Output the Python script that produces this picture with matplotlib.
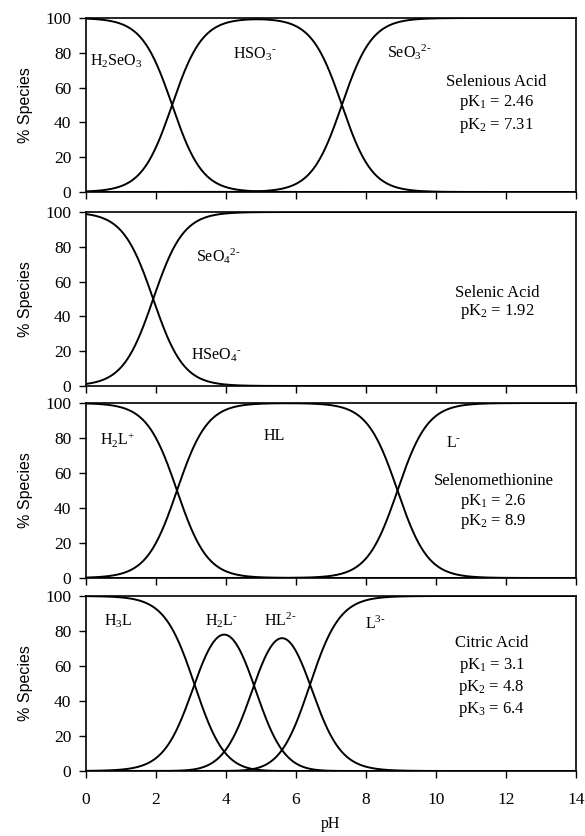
import numpy as np
import matplotlib.pyplot as plt

plt.rcParams['font.family'] = ['Liberation Serif', 'DejaVu Serif']
plt.rcParams['mathtext.fontset'] = 'custom'
plt.rcParams['mathtext.rm'] = 'Liberation Serif'
plt.rcParams['mathtext.it'] = 'Liberation Serif:italic'
plt.rcParams['mathtext.bf'] = 'Liberation Serif:bold'

# data
acid_names = ['Selenious Acid', 'Selenic Acid', 'Selenomethionine', 'Citric Acid']
pk_selenious = [2.46, 7.31]
pk_selenic = [1.92]
pk_selenomet = [2.6, 8.9]
pk_citric = [3.1, 4.8, 6.4]
pk_names = [['pK$_1$ = 2.46', 'pK$_2$ = 7.31'],
            ['pK$_2$ = 1.92'],
            ['pK$_1$ = 2.6', 'pK$_2$ = 8.9'],
            ['pK$_1$ = 3.1', 'pK$_2$ = 4.8', 'pK$_3$ = 6.4']]
species_selenious = ['H$_2$SeO$_3$', r'HSO$_3$$^{\text{-}}$', r'SeO$_3$$^{\text{2-}}$']
species_selenic = [r'HSeO$_4$$^{\text{-}}$', r'SeO$_4$$^{\text{2-}}$']
species_selenomet = ['H$_2$L$^{+}$', 'HL', r'L$^{\text{-}}$']
species_citric = ['H$_3$L', r'H$_2$L$^{\text{-}}$', r'HL$^{\text{2-}}$', r'L$^{\text{3-}}$']
ph = np.linspace(0, 14, 701)

# label placement (data coords)
species_pos = [[(0.12, 72.5), (4.2, 76.8), (8.6, 77.4)],
               [(3.0, 14.9), (3.13, 71.4)],
               [(0.4, 76.0), (5.07, 78.9), (10.29, 75.0)],
               [(0.5, 82.9), (3.4, 82.9), (5.09, 82.9), (7.97, 81.0)]]
info_pos = [(11.72, [61.0, 49.4, 36.0]),
            (11.74, [51.4, 41.0]),
            (11.64, [53.1, 41.7, 30.3]),
            (11.59, [70.9, 58.3, 45.7, 33.1])]


def fractions(pks, ph):
    """percent of each species for a polyprotic acid"""
    n = len(pks)
    logs = []
    for i in range(n + 1):
        logs.append(-(n - i) * ph - np.sum(pks[:i]))
    logs = np.array(logs)
    logs -= logs.max(axis=0)
    terms = 10.0 ** logs
    return 100 * terms / terms.sum(axis=0)


fig = plt.figure(figsize=(5.85, 8.36), dpi=100)
W, H = 585.0, 836.0
left, right = 86, 576
panels = [(18, 192), (212, 386), (403, 578), (596, 771)]
all_pks = [pk_selenious, pk_selenic, pk_selenomet, pk_citric]
all_species = [species_selenious, species_selenic, species_selenomet, species_citric]

for k, (top, bot) in enumerate(panels):
    ax = fig.add_axes([left / W, 1 - bot / H, (right - left) / W, (bot - top) / H])
    for curve in fractions(np.array(all_pks[k]), ph):
        ax.plot(ph, curve, color='black', lw=1.4)
    ax.set_xlim(0, 14)
    ax.set_ylim(0, 100)
    ax.set_xticks(np.arange(0, 15, 2))
    ax.set_yticks(np.arange(0, 101, 20))
    ax.tick_params(direction='out', length=5, width=1, labelsize=12.5, colors='black')
    ax.tick_params(axis='y', pad=5.5)
    ax.tick_params(axis='x', pad=10)
    for s in ax.spines.values():
        s.set_linewidth(1.2)
    if k < 3:
        ax.tick_params(axis='x', labelbottom=False)
    ax.set_ylabel('% Species', family=['Liberation Sans', 'DejaVu Sans'], fontsize=11.5, labelpad=9)

    for name, (x, y) in zip(all_species[k], species_pos[k]):
        ax.text(x, y, name, fontsize=11.5, ha='left', va='baseline')
    xc, ys = info_pos[k]
    lines = [acid_names[k]] + pk_names[k]
    for line, y in zip(lines, ys):
        ax.text(xc, y, line, fontsize=12, ha='center', va='baseline')

    if k == 3:
        ax.set_xlabel('pH', fontsize=11.5, labelpad=6)

fig.savefig('out.png', dpi=100)
